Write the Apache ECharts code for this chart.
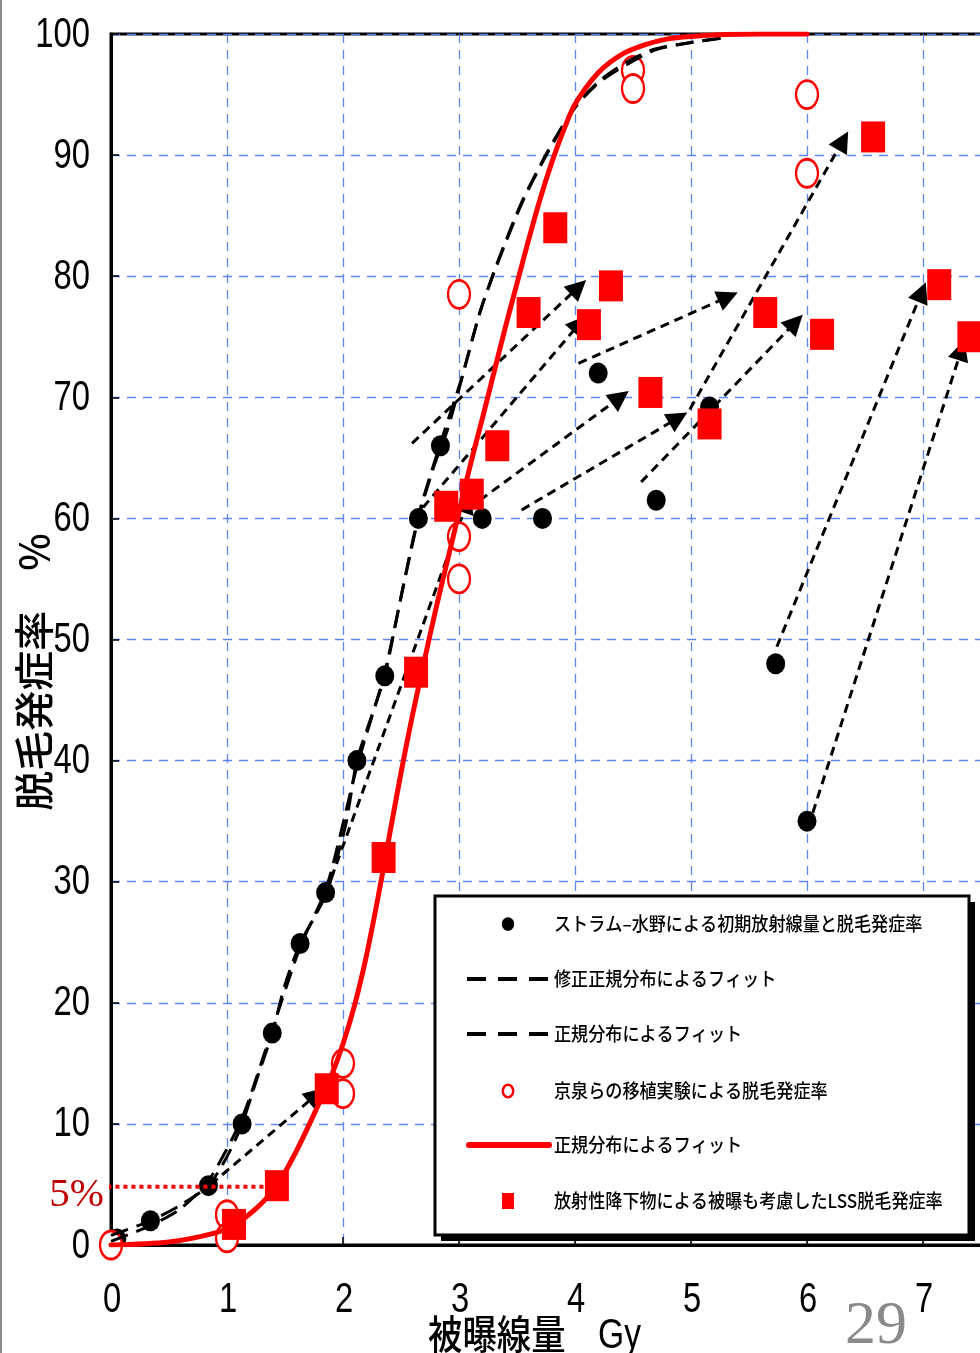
<!DOCTYPE html>
<html>
<head>
<meta charset="utf-8">
<script src="https://cdn.jsdelivr.net/npm/echarts@6/dist/echarts.min.js"></script>
<style>
  html, body { margin: 0; padding: 0; background: #ffffff; }
  #chart { width: 980px; height: 1353px; }
</style>
</head>
<body>
<div id="chart"></div>
<script>
// Axis ticks
const doseTicks = [0, 1, 2, 3, 4, 5, 6, 7, 8];
const doseTickLabels = ['0', '1', '2', '3', '4', '5', '6', '7', '8'];
const rateTicks = [0, 10, 20, 30, 40, 50, 60, 70, 80, 90, 100];
const rateTickLabels = ['0', '10', '20', '30', '40', '50', '60', '70', '80', '90', '100'];

// ストラム–水野: initial radiation dose vs epilation rate
const stramDose = [0.05, 0.34, 0.84, 1.13, 1.39, 1.63, 1.85, 2.12, 2.36, 2.65, 2.84, 3.20, 3.72, 4.20, 4.70, 5.16, 5.73, 6.00];
const stramRate = [0.5, 2.0, 4.9, 10.0, 17.5, 24.9, 29.1, 40.0, 47.0, 60.0, 66.0, 60.0, 60.0, 72.0, 61.5, 69.2, 48.0, 35.0];

// 京泉ら transplant experiments
const kyoDose = [0, 1.0, 1.0, 2.0, 2.0, 3.0, 3.0, 3.0, 4.5, 4.5, 6.0, 6.0];
const kyoRate = [0, 2.5, 0.6, 15.0, 12.5, 78.5, 58.5, 55.0, 97.0, 95.5, 95.0, 88.5];

// LSS epilation rate including fallout exposure
const lssDose = [1.06, 1.43, 1.86, 2.35, 2.63, 2.89, 3.11, 3.33, 3.60, 3.83, 4.12, 4.31, 4.65, 5.16, 5.64, 6.13, 6.57, 7.14, 7.40];
const lssRate = [1.7, 4.9, 12.9, 32.0, 47.3, 61.0, 62.0, 66.0, 77.0, 84.0, 76.0, 79.2, 70.4, 67.8, 77.0, 75.2, 91.5, 79.3, 75.0];

// 修正正規分布によるフィット (black, long dash)
const fitModDose = [0, 0.34, 0.60, 0.84, 1.00, 1.13, 1.25, 1.39, 1.50, 1.63, 1.75, 1.86, 1.95, 2.03, 2.12, 2.24, 2.36, 2.50, 2.65, 2.78, 2.90, 3.02, 3.18, 3.33, 3.44, 3.55, 3.77, 4.00, 4.22, 4.45, 4.67, 5.00, 5.30];
const fitModRate = [0.8, 2.0, 3.3, 4.9, 7.3, 10.0, 13.5, 17.5, 21.5, 24.9, 27.0, 29.1, 32.0, 35.0, 40.0, 43.5, 47.0, 53.5, 60.0, 64.2, 67.3, 71.4, 77.0, 81.1, 83.8, 86.3, 90.4, 94.0, 96.2, 97.7, 98.7, 99.3, 99.7];

// 正規分布によるフィット (black, dash)
const fitNormDose = [0, 0.34, 0.60, 0.84, 1.13, 1.39, 1.63, 1.86, 2.12, 2.36, 2.65, 2.84, 3.02, 3.18, 3.33, 3.55, 3.77, 4.00, 4.22, 4.67, 5.00, 5.30];
const fitNormRate = [0.3, 1.6, 3.0, 5.3, 10.5, 17.8, 24.6, 29.6, 39.5, 47.3, 60.2, 66.2, 71.5, 77.0, 81.0, 86.2, 90.3, 93.9, 96.1, 98.6, 99.3, 99.7];

// 正規分布によるフィット (red, solid)
const fitRedDose = [0, 0.5, 0.9, 1.07, 1.25, 1.43, 1.6, 1.75, 1.9, 2.0, 2.1, 2.2, 2.3, 2.4, 2.5, 2.6, 2.7, 2.8, 2.9, 3.0, 3.1, 3.2, 3.3, 3.4, 3.5, 3.6, 3.7, 3.8, 3.9, 4.0, 4.2, 4.4, 4.6, 4.8, 5.0, 5.3, 5.6, 6.0];
const fitRedRate = [0, 0.25, 1.0, 1.7, 3.0, 4.9, 7.8, 10.8, 14.0, 16.6, 19.8, 23.8, 28.6, 33.8, 39.0, 43.8, 48.2, 52.5, 56.5, 60.5, 64.5, 68.2, 72.0, 75.8, 79.4, 83.0, 86.4, 89.4, 92.0, 94.2, 96.8, 98.3, 99.1, 99.6, 99.8, 99.95, 100, 100];

// 5% reference level
const fivePctDose = [-0.1, 1.33];
const fivePctRate = [4.8, 4.8];

// Shift arrows: Stram–Mizuno point -> LSS point with fallout
const arrowStartDose = [0.86, 1.90, 2.69, 2.595, 3.18, 3.54, 4.03, 4.57, 4.99, 5.74, 6.05];
const arrowStartRate = [5.0, 30.3, 60.9, 66.2, 61.5, 60.7, 72.8, 63.0, 69.0, 49.4, 35.7];
const arrowEndDose   = [1.77, 3.07, 4.04, 4.03, 4.39, 4.89, 5.32, 5.90, 6.31, 6.99, 7.33];
const arrowEndRate   = [12.4, 61.3, 76.1, 79.1, 70.0, 68.3, 78.3, 76.2, 91.2, 78.7, 73.9];

const pairs = (xs, ys) => xs.map((x, i) => [x, ys[i]]);

const SANS = '"Liberation Sans", Arial, sans-serif';
const JP = '"Noto Sans CJK JP", "Noto Sans", sans-serif';
const SERIF = '"Liberation Serif", "DejaVu Serif", serif';
const GRID_BLUE = '#5f86f2';

const chart = echarts.init(document.getElementById('chart'), null, { renderer: 'canvas' });

const legendX = 435, legendY = 896, legendW = 534, legendH = 339;
const rowY = [924, 979, 1034, 1091, 1145, 1201];
const textX = 554;
const legendLabels = [
  'ストラム–水野による初期放射線量と脱毛発症率',
  '修正正規分布によるフィット',
  '正規分布によるフィット',
  '京泉らの移植実験による脱毛発症率',
  '正規分布によるフィット',
  '放射性降下物による被曝も考慮したLSS脱毛発症率'
];

const legendChildren = [
  { type: 'rect', shape: { x: legendX + 6, y: legendY + 6, width: legendW, height: legendH }, style: { fill: '#000' } },
  { type: 'rect', shape: { x: legendX, y: legendY, width: legendW, height: legendH }, style: { fill: '#fff', stroke: '#000', lineWidth: 3 } },
  { type: 'ellipse', shape: { cx: 508, cy: rowY[0], rx: 6.2, ry: 6.8 }, style: { fill: '#000' } },
  { type: 'line', shape: { x1: 467, y1: rowY[1], x2: 548, y2: rowY[1] }, style: { stroke: '#000', lineWidth: 4, lineDash: [19, 12] } },
  { type: 'line', shape: { x1: 467, y1: rowY[2], x2: 548, y2: rowY[2] }, style: { stroke: '#000', lineWidth: 4, lineDash: [19, 12] } },
  { type: 'ellipse', shape: { cx: 508, cy: rowY[3], rx: 5.2, ry: 6.2 }, style: { fill: '#fff', stroke: '#ff0000', lineWidth: 2.5 } },
  { type: 'line', shape: { x1: 469, y1: rowY[4], x2: 549, y2: rowY[4] }, style: { stroke: '#ff0000', lineWidth: 6, lineCap: 'round' } },
  { type: 'rect', shape: { x: 502, y: rowY[5] - 8, width: 12, height: 16 }, style: { fill: '#ff0000' } }
];
legendLabels.forEach((t, i) => {
  legendChildren.push({
    type: 'text', x: textX, y: rowY[i], scaleX: 0.9,
    style: { text: t, font: '500 19px ' + JP, fill: '#000', textAlign: 'left', textVerticalAlign: 'middle' }
  });
});

const option = {
  animation: false,
  backgroundColor: '#ffffff',
  grid: {
    left: 111, top: 34, width: 928, height: 1211, outerBoundsMode: 'none', containLabel: false,
    show: true, borderColor: '#000', borderWidth: 3, backgroundColor: 'transparent'
  },
  xAxis: {
    type: 'value', min: 0, max: 8, interval: 1,
    axisLine: { show: true, lineStyle: { color: '#000', width: 3 } },
    axisTick: { show: true, inside: true, length: 8, lineStyle: { color: '#000', width: 1.5 } },
    axisLabel: { show: false },
    splitLine: { show: true, lineStyle: { color: GRID_BLUE, width: 1.3, type: [9, 7] } }
  },
  yAxis: {
    type: 'value', min: 0, max: 100, interval: 10,
    axisLine: { show: true, lineStyle: { color: '#000', width: 3 } },
    axisTick: { show: true, inside: true, length: 8, lineStyle: { color: '#000', width: 1.5 } },
    axisLabel: { show: false },
    splitLine: { show: true, lineStyle: { color: GRID_BLUE, width: 1.3, type: [9, 7] } }
  },
  series: [
    {
      name: '修正正規分布によるフィット', type: 'line', data: pairs(fitModDose, fitModRate),
      smooth: 0.25, symbol: 'none', lineStyle: { color: '#000', width: 3, type: [18, 9] }
    },
    {
      name: '正規分布によるフィット', type: 'line', data: pairs(fitNormDose, fitNormRate),
      smooth: 0.25, symbol: 'none', lineStyle: { color: '#000', width: 3, type: [18, 9] }
    },
    {
      name: '正規分布によるフィット(赤)', type: 'line', data: pairs(fitRedDose, fitRedRate),
      smooth: 0.3, symbol: 'none', lineStyle: { color: '#ff0000', width: 5, cap: 'round' }
    },
    {
      name: '5%', type: 'line', data: pairs(fivePctDose, fivePctRate), clip: false,
      symbol: 'none', lineStyle: { color: '#ff0000', width: 4, type: [4, 4] }
    },
    {
      name: 'ストラム–水野', type: 'scatter', data: pairs(stramDose, stramRate),
      symbol: 'circle', symbolSize: [19, 21], itemStyle: { color: '#000', opacity: 1 }
    },
    {
      name: '京泉ら', type: 'scatter', data: pairs(kyoDose, kyoRate), clip: false,
      symbol: 'circle', symbolSize: [22, 28], itemStyle: { color: '#fff', borderColor: '#ff0000', borderWidth: 2.5, opacity: 1 }
    },
    {
      name: 'LSS', type: 'scatter', data: pairs(lssDose, lssRate),
      symbol: 'rect', symbolSize: [24, 31], itemStyle: { color: '#ff0000', opacity: 1 }
    },
    {
      name: 'shift', type: 'lines', coordinateSystem: 'cartesian2d', polyline: false,
      symbol: ['none', 'triangle'], symbolSize: [17, 21],
      lineStyle: { color: '#000', width: 3, type: [9, 6], opacity: 1, curveness: 0 },
      data: arrowStartDose.map((x, i) => ({ coords: [[x, arrowStartRate[i]], [arrowEndDose[i], arrowEndRate[i]]] }))
    }
  ]
};

chart.setOption(option);

// Tick labels in a tall narrow face, placed through the axis scales
const tickLabelEls = [];
doseTicks.forEach((v, i) => {
  const p = chart.convertToPixel({ gridIndex: 0 }, [v, 0]);
  tickLabelEls.push({
    type: 'text', x: p[0] + 1, y: p[1] + 55, scaleX: 0.78,
    style: { text: doseTickLabels[i], font: '42px ' + SANS, fill: '#000', textAlign: 'center', textVerticalAlign: 'middle' }
  });
});
rateTicks.forEach((v, i) => {
  const p = chart.convertToPixel({ gridIndex: 0 }, [0, v]);
  tickLabelEls.push({
    type: 'text', x: p[0] - 21, y: p[1] + 1, scaleX: 0.78,
    style: { text: rateTickLabels[i], font: '42px ' + SANS, fill: '#000', textAlign: 'right', textVerticalAlign: 'middle' }
  });
});

chart.setOption({
  graphic: [
    { type: 'rect', shape: { x: 0, y: 0, width: 2, height: 1353 }, style: { fill: '#8c8c8c' } },
    {
      type: 'text', x: 34, y: 672, rotation: Math.PI / 2,
      style: { text: '脱毛発症率　%', font: '500 40px ' + JP, fill: '#000', textAlign: 'center', textVerticalAlign: 'middle' }
    },
    {
      type: 'text', x: 428, y: 1334, scaleX: 0.86,
      style: { text: '被曝線量', font: '500 40px ' + JP, fill: '#000', textAlign: 'left', textVerticalAlign: 'middle' }
    },
    {
      type: 'text', x: 598, y: 1336, scaleX: 0.8,
      style: { text: 'Gy', font: '42px ' + SANS, fill: '#000', textAlign: 'left', textVerticalAlign: 'middle' }
    },
    {
      type: 'text', x: 104, y: 1195,
      style: { text: '5%', font: '41px ' + SERIF, fill: '#c00000', textAlign: 'right', textVerticalAlign: 'middle' }
    },
    {
      type: 'text', x: 845, y: 1327,
      style: { text: '29', font: '62px ' + SERIF, fill: '#8a8a8a', textAlign: 'left', textVerticalAlign: 'middle' }
    },
    { type: 'group', z: 100, children: legendChildren }
  ].concat(tickLabelEls)
});
</script>
</body>
</html>
